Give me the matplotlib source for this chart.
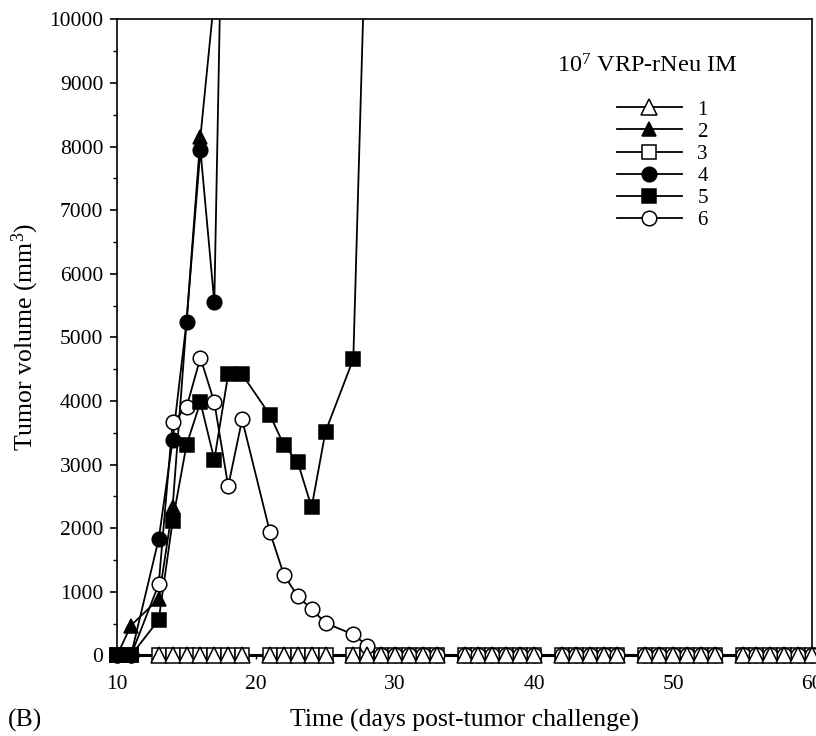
import numpy as np
import matplotlib
matplotlib.use('Agg')
import matplotlib.pyplot as plt
from matplotlib.patches import Rectangle

plt.rcParams['font.family'] = ['Liberation Serif', 'DejaVu Serif']
plt.rcParams['mathtext.fontset'] = 'custom'
plt.rcParams['mathtext.rm'] = 'Liberation Serif'
plt.rcParams['mathtext.it'] = 'Liberation Serif:italic'

# measurement days where all surviving tumours were at zero
zero_days = [13, 14, 15, 16, 17, 18, 19, 21, 22, 23, 24, 25,
             27, 28, 29, 30, 31, 32, 33, 35, 36, 37, 38, 39, 40,
             42, 43, 44, 45, 46, 48, 49, 50, 51, 52, 53, 55, 56, 57, 58, 59, 60]

# mouse 1 (open triangle) - never grew
days_1 = zero_days
vol_1 = [0] * len(zero_days)

# mouse 3 (open square) - never grew
days_3 = [10, 11] + zero_days
vol_3 = [0] * len(days_3)

# mouse 2 (filled triangle)
days_2 = [10, 11, 13, 14, 16, 17]
vol_2 = [0, 470, 890, 2330, 8150, 10350]

# mouse 4 (filled circle)
days_4 = [10, 11, 13, 14, 15, 16, 17, 18]
vol_4 = [0, 0, 1830, 3380, 5240, 7950, 5550, 17000]

# mouse 5 (filled square)
days_5 = [10, 11, 13, 14, 15, 16, 17, 18, 19, 21, 22, 23, 24, 25, 27, 28]
vol_5 = [0, 0, 560, 2110, 3310, 3980, 3080, 4420, 4420, 3780, 3310, 3040,
         2330, 3520, 4660, 12300]

# mouse 6 (open circle) - regressed
days_6 = [10, 11, 13, 14, 15, 16, 17, 18, 19, 21, 22, 23, 24, 25, 27, 28] + zero_days[14:]
vol_6 = [0, 0, 1120, 3670, 3900, 4680, 3980, 2660, 3710, 1940, 1270, 930,
         730, 510, 330, 155] + [0] * len(zero_days[14:])

series = [
    ('3', days_3, vol_3, 's', 'white', 9.5),
    ('6', days_6, vol_6, 'o', 'white', 10.5),
    ('1', days_1, vol_1, '^', 'white', 11),
    ('5', days_5, vol_5, 's', 'black', 9.5),
    ('4', days_4, vol_4, 'o', 'black', 10.5),
    ('2', days_2, vol_2, '^', 'black', 9.5),
]
legend_order = ['1', '2', '3', '4', '5', '6']

fig = plt.figure(figsize=(8.16, 7.36), dpi=100)
ax = fig.add_axes([0.1434, 0.1094, 0.8517, 0.8644])

# let lines lying on the zero baseline show fully, but cut them at the top
clip = Rectangle((-0.03, -0.03), 1.06, 1.03, transform=ax.transAxes,
                 fill=False, visible=False)
ax.add_patch(clip)

handles = {}
for lab, d, v, mk, fc, ms in series:
    d = np.array(d, dtype=float)
    v = np.array(v, dtype=float)
    ln, = ax.plot(d, v, '-', color='black', lw=1.3, zorder=2)
    ln.set_clip_path(clip)
    keep = v <= 10000
    ax.plot(d[keep], v[keep], linestyle='none', marker=mk, ms=ms,
            mfc=fc, mec='black', mew=1.1, clip_on=False, zorder=3)
    handles[lab], = ax.plot([], [], '-', color='black', lw=1.3, marker=mk,
                            ms=ms, mfc=fc, mec='black', mew=1.1)

ax.set_xlim(10, 60)
ax.set_ylim(0, 10000)
ax.set_xticks([10, 20, 30, 40, 50, 60])
ax.set_yticks(np.arange(0, 10001, 1000))
ax.set_yticks(np.arange(500, 10000, 1000), minor=True)
ax.tick_params(axis='y', which='major', direction='out', length=5, width=1.2,
               labelsize=15.5, pad=5)
ax.tick_params(axis='y', which='minor', direction='out', length=3, width=1.0)
ax.tick_params(axis='x', which='major', direction='out', length=3, width=1.0,
               labelsize=15.5, pad=11)
for s in ax.spines.values():
    s.set_linewidth(1.2)
ax.spines['bottom'].set_linewidth(2.2)

ax.set_xlabel('Time (days post-tumor challenge)', fontsize=18.5, labelpad=11)
ax.set_ylabel('Tumor volume (mm$^3$)', fontsize=18.5, labelpad=6)

ax.text(0.633, 0.926, '$10^7$ VRP-rNeu IM', transform=ax.transAxes,
        fontsize=17.5, va='center', ha='left')
ax.legend([handles[k] for k in legend_order], legend_order,
          loc='upper left', bbox_to_anchor=(0.7194, 0.873), frameon=False,
          fontsize=15, handlelength=3.1, handletextpad=0.75,
          labelspacing=0.12, borderpad=0, borderaxespad=0)

fig.text(0.01, 0.0217, '(B)', fontsize=18.5, ha='left', va='center')

fig.savefig('out.png', dpi=100)
